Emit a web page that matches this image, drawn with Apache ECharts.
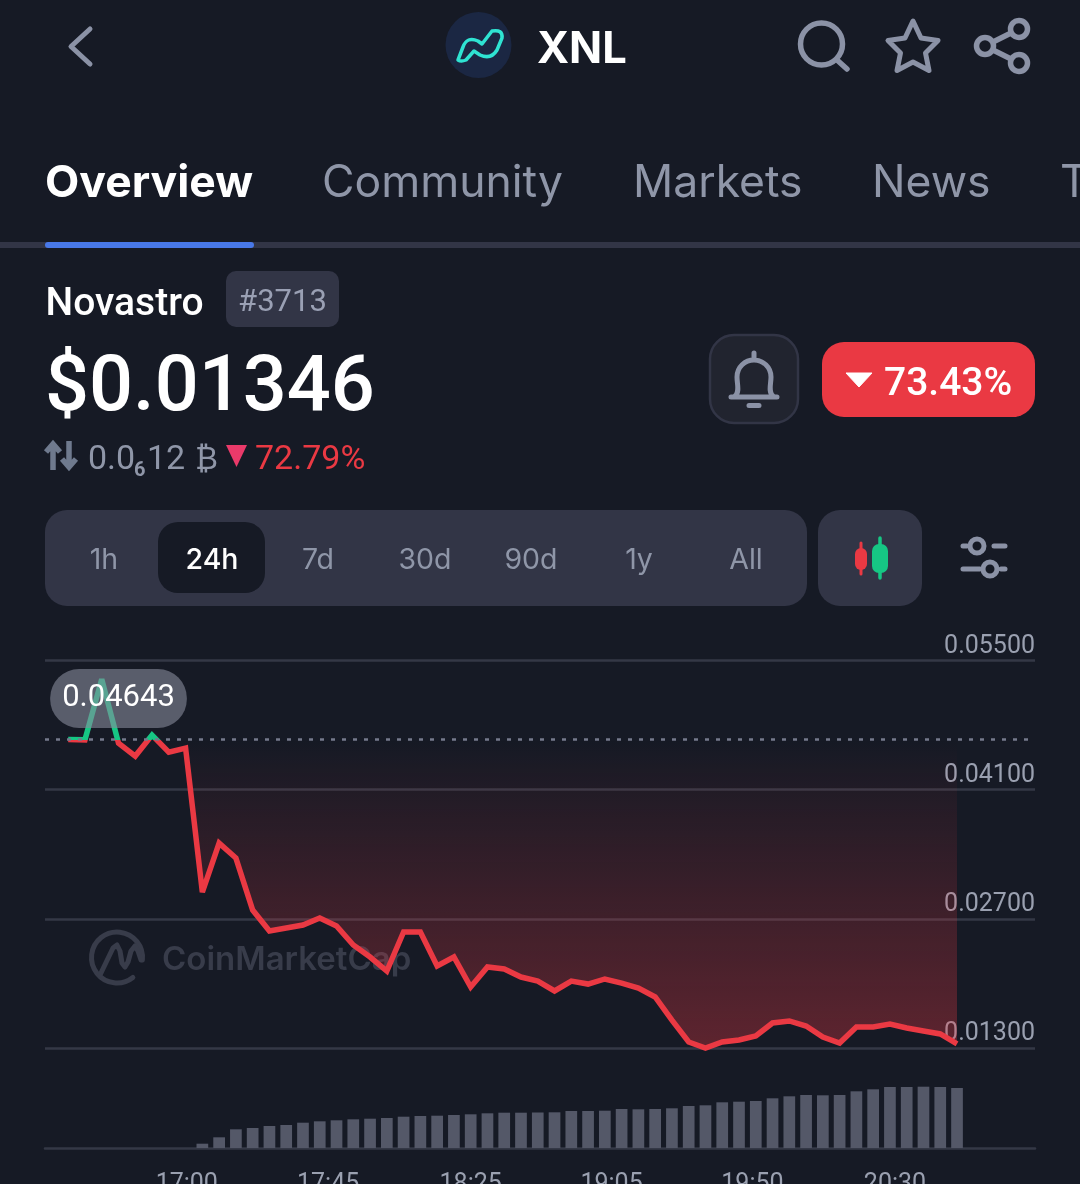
<!DOCTYPE html>
<html>
<head>
<meta charset="utf-8">
<script src="https://cdn.jsdelivr.net/npm/echarts@6/dist/echarts.min.js"></script>
<style>
html,body{margin:0;padding:0;width:1080px;height:1184px;overflow:hidden;background:#161a25}
#chart{position:absolute;left:0;top:0;width:1080px;height:1184px}
#ui{position:absolute;left:0;top:0;pointer-events:none}
.r{font-family:Roboto,sans-serif}
.i{font-family:Inter,sans-serif}
</style>
</head>
<body>
<div id="chart"></div>
<svg id="ui" width="1080" height="1184" viewBox="0 0 1080 1184" xmlns="http://www.w3.org/2000/svg">
  <!-- top bar -->
  <path d="M90 29 L71 46.5 L90 64" fill="none" stroke="#8b92a6" stroke-width="5" stroke-linecap="round" stroke-linejoin="round"/>
  <circle cx="478.5" cy="45" r="33" fill="#1b2743"/>
  <path d="M458 60 L463 47 Q467 36 478 41 L482 44 L492 31 Q503 29 502 38 L497 50 Q491 60 480 55 L474 51 L466 60 Q461 62 458 60 Z" fill="none" stroke="#2fe3d2" stroke-width="3.5" stroke-linejoin="round"/>
  <text x="537" y="63" class="i" font-size="43.500" font-weight="700" fill="#fff">XNL</text>
  <circle cx="821.5" cy="44" r="21" fill="none" stroke="#8b92a6" stroke-width="5.5"/>
  <path d="M837 60 L847 69" stroke="#8b92a6" stroke-width="5.5" stroke-linecap="round"/>
  <path d="M913 21 L921 38 L938 40.5 L925.5 53 L929 70.5 L913 62 L897 70.5 L900.5 53 L888 40.5 L905 38 Z" fill="none" stroke="#8b92a6" stroke-width="5" stroke-linejoin="round"/>
  <g fill="none" stroke="#8b92a6" stroke-width="5.5">
    <circle cx="1019" cy="29" r="8.5"/><circle cx="985" cy="46" r="8.5"/><circle cx="1019" cy="63" r="8.5"/>
    <path d="M993 42 L1011 33 M993 50 L1011 59"/>
  </g>
  <!-- tabs -->
  <text x="45" y="197" class="i" font-size="44.500" font-weight="700" fill="#fff">Overview</text>
  <text x="322" y="197" class="i" font-size="44.500" fill="#8f96a8">Community</text>
  <text x="633" y="197" class="i" font-size="44.500" fill="#8f96a8">Markets</text>
  <text x="872" y="197" class="i" font-size="44.500" fill="#8f96a8">News</text>
  <text x="1060" y="197" class="i" font-size="44.500" fill="#8f96a8">T</text>
  <rect x="0" y="242" width="1080" height="6" fill="#323546"/>
  <rect x="45" y="242" width="209" height="6" rx="3" fill="#4878e8"/>
  <!-- name + price -->
  <text x="45.500" y="315" class="r" font-size="39" font-weight="500" fill="#fff">Novastro</text>
  <rect x="226" y="271" width="113" height="56" rx="10" fill="#323546"/>
  <text x="282.500" y="311" class="r" font-size="31" fill="#9aa0b4" text-anchor="middle">#3713</text>
  <text x="45" y="410" class="r" font-size="77.500" font-weight="500" fill="#fff">$0.01346</text>
  <path d="M53 470 V445 M46 452 L53 444 L60 452" fill="none" stroke="#6f7a8e" stroke-width="5.5"/>
  <path d="M69 441 V467 M62 459 L69 467 L76 459" fill="none" stroke="#6f7a8e" stroke-width="5.5"/>
  <text x="88" y="469" class="r" font-size="34" fill="#8f96a8">0.0</text>
  <text x="134" y="476" class="r" font-size="20" font-weight="700" fill="#8f96a8">6</text>
  <text x="147" y="469" class="r" font-size="34" fill="#8f96a8">12</text>
  <text x="195" y="469" class="r" font-size="31" fill="#8f96a8">₿</text>
  <path d="M226 445 H247 L236.500 467 Z" fill="#ea3a6a"/>
  <text x="255" y="469" class="r" font-size="34" fill="#ea3943">72.79%</text>
  <!-- bell + change -->
  <rect x="710" y="335" width="88" height="88" rx="24" fill="#21242f" stroke="#323546" stroke-width="2.5"/>
  <path d="M731 397 H777 M735 396 C740 392 737 384 737 377 C737 367 745 360 754 360 C763 360 771 367 771 377 C771 384 768 392 773 396 M754 353 V360 M749 405.500 H759" fill="none" stroke="#8b92a6" stroke-width="5" stroke-linecap="round"/>
  <rect x="822" y="342" width="213" height="75" rx="22" fill="#ea3943"/>
  <path d="M846 373 H872 L859 387 Z" fill="#fff" stroke="#fff" stroke-width="1" stroke-linejoin="round"/>
  <text x="884" y="395" class="r" font-size="39" font-weight="500" fill="#fff">73.43%</text>
  <!-- range bar -->
  <rect x="45" y="510" width="762" height="96" rx="22" fill="#323546"/>
  <rect x="158" y="522" width="107" height="71" rx="20" fill="#161a25"/>
  <g class="i" font-size="28.500" fill="#8f96a8" text-anchor="middle">
    <text x="104" y="569">1h</text>
    <text x="212" y="569" fill="#fff" font-weight="500">24h</text>
    <text x="318" y="569">7d</text>
    <text x="425" y="569">30d</text>
    <text x="531" y="569">90d</text>
    <text x="639" y="569">1y</text>
    <text x="746" y="569">All</text>
  </g>
  <rect x="818" y="510" width="104" height="96" rx="22" fill="#323546"/>
  <path d="M861 543 V574" stroke="#ea3943" stroke-width="3" stroke-linecap="round"/>
  <rect x="855" y="548" width="12" height="22" rx="6" fill="#ea3943"/>
  <path d="M880 538 V578" stroke="#16c784" stroke-width="3.500" stroke-linecap="round"/>
  <rect x="872" y="544" width="16" height="29" rx="7" fill="#16c784"/>
  <g fill="none" stroke="#8b92a6" stroke-width="5" stroke-linecap="round">
    <circle cx="977" cy="546" r="7"/><circle cx="990" cy="569" r="7"/>
    <path d="M963 546 H967 M994 546 H1005 M963 569 H980 M1001 569 H1005"/>
  </g>
</svg>
<script>
const tickLabels = ['17:00', '17:45', '18:25', '19:05', '19:50', '20:30'];
const tickPositions = [7.07, 15.5, 24, 32.4, 40.8, 49.3];
const priceTicks = [0.013, 0.027, 0.041, 0.055];
const openPrice = 0.04643;
const prices = [
  0.04643, 0.04640, 0.05298, 0.04605, 0.04464, 0.04692, 0.04507, 0.04551, 0.02990, 0.03521,
  0.03359, 0.02795, 0.02568, 0.02600, 0.02633, 0.02709, 0.02622, 0.02416, 0.02286, 0.02134,
  0.02557, 0.02557, 0.02189, 0.02286, 0.01961, 0.02178, 0.02156, 0.02069, 0.02026, 0.01918,
  0.02026, 0.01993, 0.02048, 0.02004, 0.01950, 0.01853, 0.01603, 0.01365, 0.01300, 0.01365,
  0.01387, 0.01430, 0.01571, 0.01593, 0.01538, 0.01419, 0.01354, 0.01528, 0.01528, 0.01560,
  0.01517, 0.01484, 0.01452, 0.01346
];
const volumes = [
  null, null, null, null, null, null, null, null, 4.3, 10.7,
  18.7, 20, 22, 23, 25.3, 26.7, 27.7, 28.7, 29.3, 30,
  31.3, 32, 32.3, 33, 33.7, 34.7, 35.3, 35.3, 35.5, 35.7,
  37, 37, 37.3, 39, 38.7, 39, 39.7, 42, 42.7, 45.7,
  46.3, 47, 49.7, 51.7, 53, 52.7, 53, 56.7, 58.7, 61,
  61, 61.3, 61, 60
];

const RED = '#ea3943', GREEN = '#16c784', GRID = '#343846', LABEL = '#9aa0b0', MARK = '#383c4a';
const X_MIN = -1.383, X_MAX = 57.65;
const Y_MIN = 0.013, Y_MAX = 0.055;
const TOP = 660.5, BOTTOM = 1048;
const openStop = (Y_MAX - openPrice) / (Y_MAX - Y_MIN);

const chart = echarts.init(document.getElementById('chart'), null, {width: 1080, height: 1184});
chart.setOption({
  animation: false,
  backgroundColor: 'transparent',
  textStyle: {fontFamily: 'Roboto'},
  grid: [
    {left: 45, right: 45, top: TOP, height: BOTTOM - TOP, outerBoundsMode: 'none'},
    {left: 45, right: 45, top: 1078, height: 70, outerBoundsMode: 'none'}
  ],
  xAxis: [
    {gridIndex: 0, type: 'value', min: X_MIN, max: X_MAX, show: false, splitLine: {show: false}},
    {gridIndex: 1, type: 'value', min: X_MIN, max: X_MAX,
      splitLine: {show: false},
      axisLine: {show: true, onZero: false, lineStyle: {color: GRID, width: 2.5}},
      axisTick: {show: false},
      axisLabel: {
        customValues: tickPositions,
        color: LABEL, fontSize: 25, fontFamily: 'Roboto', margin: 24,
        formatter: v => tickLabels[tickPositions.indexOf(v)]
      }}
  ],
  yAxis: [
    {gridIndex: 0, type: 'value', position: 'right', min: Y_MIN, max: Y_MAX,
      axisLine: {show: false},
      axisTick: {show: false, customValues: priceTicks},
      splitLine: {show: true, lineStyle: {color: GRID, width: 2.5}},
      axisLabel: {
        customValues: priceTicks,
        inside: true, margin: 0, color: LABEL, fontSize: 25, fontFamily: 'Roboto',
        verticalAlign: 'bottom', lineHeight: 28,
        formatter: v => v.toFixed(5)
      }},
    {gridIndex: 1, type: 'value', min: 0, max: 70, show: false, splitLine: {show: false}}
  ],
  series: [
    {
      name: 'Price', type: 'line', xAxisIndex: 0, yAxisIndex: 0, z: 3, clip: false,
      symbol: 'none', data: prices.map((p, i) => [i, p]),
      lineStyle: {
        width: 5.5, join: 'miter', miterLimit: 2, cap: 'butt',
        color: new echarts.graphic.LinearGradient(0, TOP, 0, BOTTOM, [
          {offset: 0, color: GREEN},
          {offset: openStop, color: GREEN},
          {offset: openStop, color: RED},
          {offset: 1, color: RED}
        ], true)
      },
      areaStyle: {
        origin: openPrice, opacity: 1,
        color: new echarts.graphic.LinearGradient(0, TOP, 0, BOTTOM, [
          {offset: 0, color: 'rgba(234,57,67,0)'},
          {offset: openStop, color: 'rgba(234,57,67,0)'},
          {offset: 1, color: 'rgba(234,57,67,0.34)'}
        ], true)
      }
    },
    {
      name: 'Open', type: 'line', xAxisIndex: 0, yAxisIndex: 0, z: 5, symbol: 'none',
      data: [[X_MIN, openPrice], [X_MAX, openPrice]],
      lineStyle: {type: [4, 7], color: '#757a8c', width: 2.5}
    },
    {
      name: 'Open label', type: 'scatter', xAxisIndex: 0, yAxisIndex: 0, z: 6,
      symbolSize: 1, itemStyle: {color: 'transparent', opacity: 1},
      data: [[3, openPrice]],
      label: {
        show: true, position: 'inside', offset: [0, -41],
        formatter: openPrice.toFixed(5),
        color: '#fff', fontSize: 31, fontFamily: 'Roboto', lineHeight: 30,
        backgroundColor: 'rgba(135,139,155,0.6)',
        borderRadius: 29, padding: [15, 12, 14, 12]
      }
    },
    {
      name: 'Volume', type: 'bar', xAxisIndex: 1, yAxisIndex: 1, barWidth: 11.7,
      data: volumes.map((v, i) => [i, v]),
      itemStyle: {color: '#545868'}
    }
  ],
  graphic: [
    {type: 'arc', z: 1, silent: true,
      shape: {cx: 117, cy: 957.5, r: 25.5, startAngle: 0.9, endAngle: 0.1, clockwise: true},
      style: {fill: 'none', stroke: MARK, lineWidth: 5, lineCap: 'round'}},
    {type: 'polyline', z: 1, silent: true,
      shape: {points: [[100, 975], [113, 948], [117, 945], [120, 951], [122, 963], [125, 967], [128, 962], [131, 951], [135, 946], [138, 951], [141, 960]]},
      style: {fill: 'none', stroke: MARK, lineWidth: 5, lineJoin: 'round', lineCap: 'round'}},
    {type: 'text', z: 1, silent: true,
      style: {text: 'CoinMarketCap', x: 162, y: 960, verticalAlign: 'middle', fill: MARK,
        font: '600 33px Inter'}}
  ]
});
</script>
</body>
</html>
